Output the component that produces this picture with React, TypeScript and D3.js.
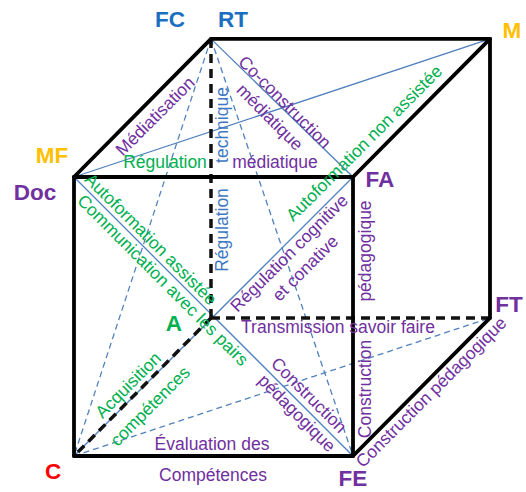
import React from "react";
import * as d3 from "d3";

// ---- Data ----
// cube vertices in unit coordinates (x: left→right, y: bottom→top, z: front→back)
const vertexNames = ["Doc", "FA", "C", "FE", "RT", "M", "A", "FT"];
const vertexX = [0, 1, 0, 1, 0, 1, 0, 1];
const vertexY = [1, 1, 0, 0, 1, 1, 0, 0];
const vertexZ = [0, 0, 0, 0, 1, 1, 1, 1];

const blackEdges = [
  ["Doc", "FA"], ["FA", "FE"], ["FE", "C"], ["C", "Doc"],
  ["Doc", "RT"], ["RT", "M"], ["M", "FA"], ["M", "FT"], ["FT", "FE"],
];
const hiddenEdges = [["RT", "A"], ["A", "FT"], ["A", "C"]];
const blueLines = [["Doc", "M"], ["RT", "FA"], ["Doc", "FE"], ["C", "FA"]];
const blueDashed = [["RT", "C"], ["RT", "FE"], ["C", "FT"]];

// vertex labels: [text, anchor vertex, colour key]
const vertexLabels = [
  ["FC", "RT", "blue"], ["RT", "RT", "blue"], ["M", "M", "yellow"],
  ["MF", "Doc", "yellow"], ["Doc", "Doc", "purple"], ["FA", "FA", "purple"],
  ["FT", "FT", "purple"], ["FE", "FE", "purple"], ["C", "C", "red"], ["A", "A", "green"],
];

// relation labels: [text, colour key]
const relationLabels = [
  ["Médiatisation", "purple"],
  ["Régulation", "green"],
  ["technique", "lblue"],
  ["médiatique", "purple"],
  ["Régulation", "lblue"],
  ["Co-construction", "purple"],
  ["médiatique", "purple"],
  ["Autoformation non assistée", "green"],
  ["Autoformation assistée", "green"],
  ["Communication avec les pairs", "green"],
  ["Régulation cognitive", "purple"],
  ["et conative", "purple"],
  ["pédagogique", "purple"],
  ["Construction", "purple"],
  ["Transmission savoir faire", "purple"],
  ["Construction", "purple"],
  ["pédagogique", "purple"],
  ["Construction pédagogique", "purple"],
  ["Acquisition", "green"],
  ["compétences", "green"],
  ["Évaluation des", "purple"],
  ["Compétences", "purple"],
];

// ---- Layout / style ----
const W = 526, H = 492;
const depthX = 0.491, depthY = 0.495;
const colors: Record<string, string> = {
  blue: "#1a6fc0", lblue: "#3f78c2", yellow: "#ffc000", purple: "#7030a0",
  green: "#00b050", red: "#ff0000",
};
const vertexLabelOffsets = [
  [-41, -12], [22, -12], [22, -1], [-22, -14], [-39, 23], [27, 10],
  [19, -6], [0, 30], [-21, 23], [-37, 13],
];
// centre x, centre y, rotation
const relationLayout = [
  [155, 116, -45], [165, 162, 0], [222, 125, -90], [275, 162, 0], [222, 230, -90],
  [285, 102, 45], [270, 117, 45], [364, 143, -45], [151, 239, 45], [163, 280, 45],
  [289, 253, -45], [305, 268, -45], [365, 251, -90], [365, 389, -90], [338, 327, 0],
  [309, 395, 45], [297, 413, 45], [431, 392, -45], [128, 385, -45], [150, 406, -45],
  [212, 444, 0], [213, 475, 0],
];

const xScale = d3.scaleLinear().domain([0, 1]).range([74, 353]);
const yScale = d3.scaleLinear().domain([0, 1]).range([456, 177]);

function pos(name: string): [number, number] {
  const i = vertexNames.indexOf(name);
  return [
    xScale(vertexX[i] + vertexZ[i] * depthX),
    yScale(vertexY[i] + vertexZ[i] * depthY),
  ];
}
const line = d3.line<[number, number]>();

export default function App() {
  React.useEffect(() => {
    document.body.style.margin = "0";
  }, []);
  const font = "'Liberation Sans', Arial, sans-serif";
  return (
    <svg width={W} height={H} style={{ position: "absolute", left: 0, top: 0, background: "#fff" }}>
      <rect width={W} height={H} fill="#fff" />
      {blueDashed.map(([a, b], i) => (
        <path key={"bd" + i} d={line([pos(a), pos(b)]) || ""} stroke="#4f81bd" strokeWidth={1.3}
          strokeDasharray="6,4" fill="none" />
      ))}
      {blueLines.map(([a, b], i) => (
        <path key={"bl" + i} d={line([pos(a), pos(b)]) || ""} stroke="#4f81bd" strokeWidth={1.3} fill="none" />
      ))}
      {hiddenEdges.map(([a, b], i) => (
        <path key={"he" + i} d={line([pos(a), pos(b)]) || ""} stroke="#111" strokeWidth={3.5}
          strokeDasharray="9,6" fill="none" />
      ))}
      {blackEdges.map(([a, b], i) => (
        <path key={"be" + i} d={line([pos(a), pos(b)]) || ""} stroke="#000" strokeWidth={3.8}
          strokeLinecap="round" fill="none" />
      ))}
      {relationLabels.map(([t, c], i) => {
        const [x, y, r] = relationLayout[i];
        return (
          <text key={"rl" + i} transform={`translate(${x},${y}) rotate(${r})`} textAnchor="middle"
            dy="0.35em" fontFamily={font} fontSize={17.5} fill={colors[c]}>{t}</text>
        );
      })}
      {vertexLabels.map(([t, v, c], i) => {
        const [px, py] = pos(v);
        const [ox, oy] = vertexLabelOffsets[i];
        return (
          <text key={"vl" + i} x={px + ox} y={py + oy} textAnchor="middle" fontFamily={font}
            fontSize={22.5} fontWeight="bold" fill={colors[c]}>{t}</text>
        );
      })}
    </svg>
  );
}
